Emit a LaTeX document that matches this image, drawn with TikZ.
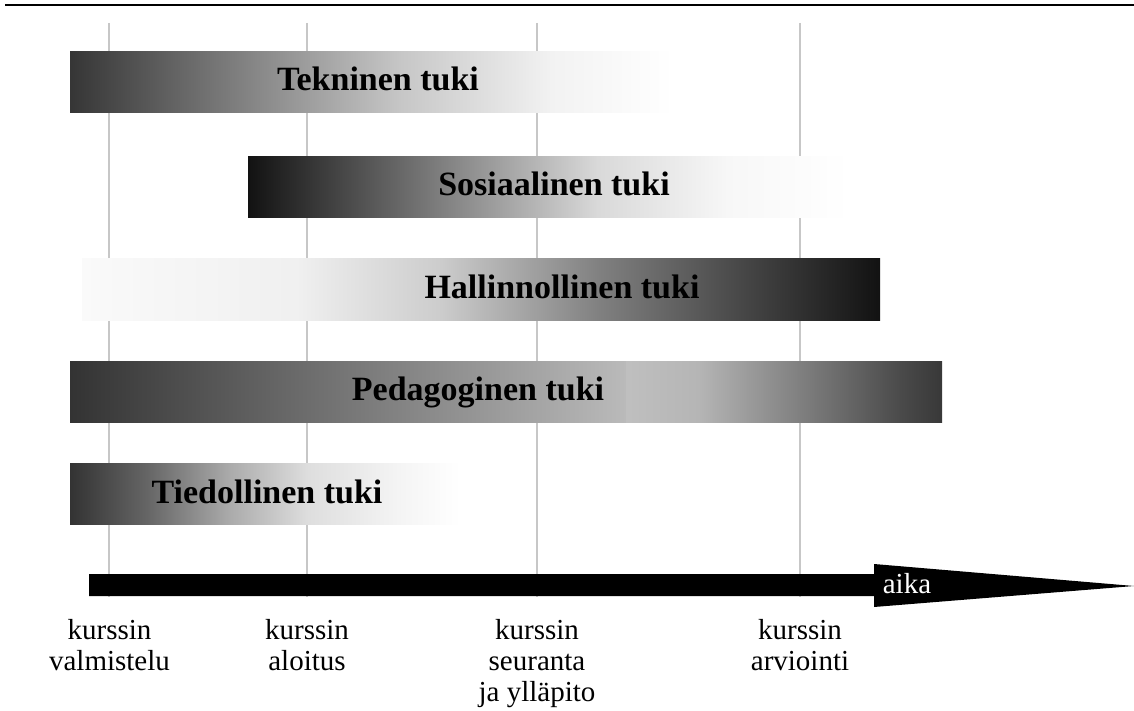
\documentclass[tikz,border=0pt]{standalone}
\usepackage{fontspec}
\setmainfont{Liberation Serif}
\usetikzlibrary{fit,positioning}
\pgfdeclarelayer{bg}
\pgfsetlayers{bg,main}

\pgfdeclarehorizontalshading{tekshade}{100bp}{color(0bp)=(black!79); color(25bp)=(black!79); color(52.5bp)=(black!22); color(65bp)=(black!5); color(75bp)=(white); color(100bp)=(white)}
\pgfdeclarehorizontalshading{sosshade}{100bp}{color(0bp)=(black!93); color(25bp)=(black!93); color(40bp)=(black!53); color(54bp)=(black!15); color(65bp)=(black!3); color(75bp)=(white); color(100bp)=(white)}
\pgfdeclarehorizontalshading{halshade}{100bp}{color(0bp)=(black!2); color(25bp)=(black!2); color(38.5bp)=(black!6); color(47.5bp)=(black!20); color(57.5bp)=(black!50); color(67.5bp)=(black!75); color(75bp)=(black!93); color(100bp)=(black!93)}
\pgfdeclarehorizontalshading{pedshade}{100bp}{color(0bp)=(black!25); color(25bp)=(black!25); color(36.5bp)=(black!29); color(52.5bp)=(black!50); color(68.5bp)=(black!71); color(75bp)=(black!78); color(100bp)=(black!78)}
\pgfdeclarehorizontalshading{tieshade}{100bp}{color(0bp)=(black!80); color(25bp)=(black!80); color(35bp)=(black!60); color(45.5bp)=(black!33); color(55.5bp)=(black!13); color(67.5bp)=(black!4); color(75bp)=(white); color(100bp)=(white)}

\begin{document}
\begin{tikzpicture}[x=0.5pt, y=-0.5pt,
		bar/.style={shade, inner sep=0pt, outer sep=0pt},
		title/.style={anchor=base, inner sep=0pt, font=\fontsize{17}{20}\selectfont\bfseries},
		phase/.style={anchor=north, inner sep=0pt, align=center, font=\fontsize{14.5}{15.5}\selectfont},
		grid line/.style={draw=black!22, line width=0.85pt},
	]
		\useasboundingbox (0,0) rectangle (1134,711);
		\draw[line width=1.2pt] (5,5) -- (1134,5);

		\begin{pgfonlayer}{bg}
			\draw[grid line] (109,23) -- (109,597);
			\draw[grid line] (307,23) -- (307,597);
			\draw[grid line] (537,23) -- (537,597);
			\draw[grid line] (800,23) -- (800,597);
		\end{pgfonlayer}

		% tukimuodot
		\node[bar, shading=tekshade, fit={(70,52) (673,113)}] (tek) {};
		\node[title] (tektxt) at (378,91) {Tekninen tuki};
		\node[bar, shading=sosshade, fit={(248,157) (850,218)}] (sos) {};
		\node[title] (sostxt) at (554,196) {Sosiaalinen tuki};
		\node[bar, shading=halshade, fit={(82,258) (880,320)}] (hal) {};
		\node[title] (haltxt) at (562,298) {Hallinnollinen tuki};
		\node[bar, left color=black!80, right color=black!27, fit={(70,361) (626,422)}] (pedA) {};
		\node[bar, shading=pedshade, fit={(626,361) (942,422)}] (pedB) {};
		\node[title] (pedtxt) at (478,400) {Pedagoginen tuki};
		\node[bar, shading=tieshade, fit={(70,463) (460,524)}] (tie) {};
		\node[title] (tietxt) at (267,503) {Tiedollinen tuki};

		% aika-akseli
		\fill (89,574) -- (874,574) -- (874,564) -- (1134,586) -- (874,607) -- (874,596) -- (89,596) -- cycle;
		\node[title, font=\fontsize{14.5}{15.5}\selectfont, text=white] (aika) at (907,593) {aika};

		\node[phase] (valm) at (109.5,619) {kurssin\\valmistelu};
		\node[phase] (aloi) at (307,619) {kurssin\\aloitus};
		\node[phase] (seur) at (537,619) {kurssin\\seuranta\\ja ylläpito};
		\node[phase] (arvi) at (800,619) {kurssin\\arviointi};
	\end{tikzpicture}
\end{document}
